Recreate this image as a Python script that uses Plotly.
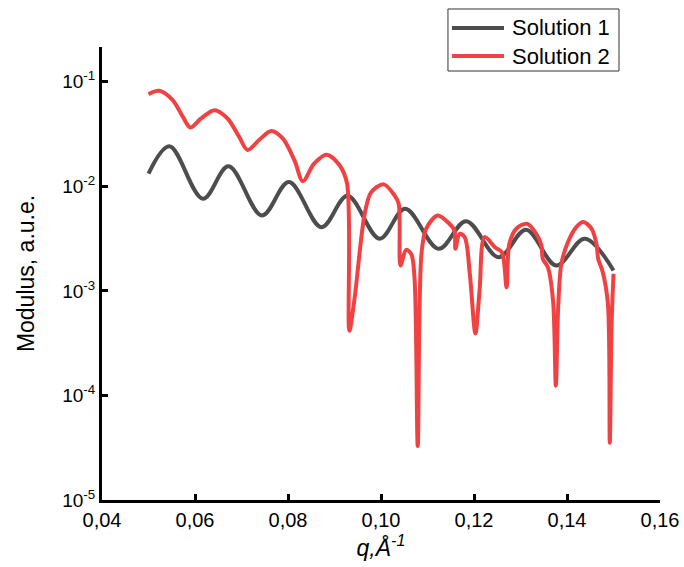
import plotly.graph_objects as go

# Solution 1 (dark grey)
q1 = [0.0500, 0.0545, 0.0617, 0.0672, 0.0744, 0.0802, 0.0872, 0.0928, 0.0997, 0.1052,
      0.1124, 0.1183, 0.1253, 0.1312, 0.1377, 0.1438, 0.1500]
m1 = [0.01324, 0.0242, 0.00762, 0.01556, 0.00527, 0.01099, 0.00407, 0.00811, 0.00316, 0.00611,
      0.00253, 0.00465, 0.00210, 0.00385, 0.00175, 0.00316, 0.00157]

# Solution 2 (red)
q2 = [0.0500, 0.0523, 0.0552, 0.0574, 0.0590, 0.0613, 0.0642, 0.0670, 0.0695, 0.0713,
      0.0739, 0.0764, 0.0789, 0.0814, 0.0832, 0.0856, 0.0883, 0.0911, 0.0927, 0.0932,
      0.0943, 0.0965, 0.0979, 0.1006, 0.1029, 0.1038, 0.1042, 0.1054, 0.1065, 0.1072,
      0.1079, 0.1087, 0.1097, 0.1122, 0.1147, 0.1158, 0.1160, 0.1169, 0.1180, 0.1191,
      0.1203, 0.1212, 0.1223, 0.1245, 0.1260, 0.1270, 0.1276, 0.1291, 0.1314, 0.1334,
      0.1345, 0.1348, 0.1359, 0.1370, 0.1376, 0.1381, 0.1388, 0.1402, 0.1420, 0.1435,
      0.1453, 0.1464, 0.1467, 0.1477, 0.1488, 0.1492, 0.1496, 0.1500]
m2 = [0.0762, 0.0820, 0.0668, 0.0461, 0.0366, 0.0446, 0.0536, 0.0446, 0.0297, 0.0223,
      0.0281, 0.0339, 0.0286, 0.0177, 0.0112, 0.0165, 0.0201, 0.0159, 0.0106, 0.000416,
      0.000838, 0.00547, 0.00881, 0.01045, 0.00820, 0.00682, 0.00175, 0.00247, 0.00226, 0.00135,
      0.0000329, 0.00226, 0.00393, 0.00527, 0.00439, 0.00378, 0.00253, 0.00352, 0.00327, 0.00146,
      0.000392, 0.00101, 0.00327, 0.00262, 0.00234, 0.00108, 0.00282, 0.00393, 0.00439, 0.00352,
      0.00272, 0.00203, 0.00168, 0.000807, 0.000124, 0.000697, 0.00182, 0.00292, 0.00407, 0.00455,
      0.00393, 0.00272, 0.00203, 0.00151, 0.000750, 0.0000353, 0.000483, 0.00146]

series_names = ["Solution 1", "Solution 2"]
series_colors = ["#4d4d4d", "#f04242"]

x_ticks = [0.04, 0.06, 0.08, 0.10, 0.12, 0.14, 0.16]
x_tick_labels = ["0,04", "0,06", "0,08", "0,10", "0,12", "0,14", "0,16"]
y_ticks = [1e-5, 1e-4, 1e-3, 1e-2, 1e-1]
y_tick_labels = ["10<sup>-5</sup>", "10<sup>-4</sup>", "10<sup>-3</sup>", "10<sup>-2</sup>", "10<sup>-1</sup>"]

FONT = "Arial, 'Liberation Sans', sans-serif"

fig = go.Figure()
fig.add_trace(go.Scatter(x=q1, y=m1, mode="lines", name=series_names[0],
                         line=dict(color=series_colors[0], width=4, shape="spline", smoothing=1.0)))
fig.add_trace(go.Scatter(x=q2, y=m2, mode="lines", name=series_names[1],
                         line=dict(color=series_colors[1], width=4, shape="spline", smoothing=0.9)))

fig.update_layout(
    width=684, height=567,
    margin=dict(l=102, r=24, t=47, b=67),
    paper_bgcolor="white", plot_bgcolor="white",
    font=dict(family=FONT, color="black", size=20),
    showlegend=False,
)

# legend box drawn in paper coordinates
fig.add_shape(type="rect", xref="paper", yref="paper",
              x0=0.6200, x1=0.9265, y0=0.9470, y1=1.0839,
              line=dict(color="#333333", width=1), fillcolor="white", layer="above")
legend_rows_y = [1.0420, 0.9801]
for name, color, yy in zip(series_names, series_colors, legend_rows_y):
    fig.add_shape(type="line", xref="paper", yref="paper",
                  x0=0.6272, x1=0.7204, y0=yy, y1=yy,
                  line=dict(color=color, width=4), layer="above")
    fig.add_annotation(xref="paper", yref="paper", x=0.7320, y=yy,
                       xanchor="left", yanchor="middle", showarrow=False,
                       text=name, font=dict(size=22, family=FONT, color="black"))

fig.update_xaxes(
    range=[0.04, 0.16], tickvals=x_ticks, ticktext=x_tick_labels,
    showline=True, linecolor="black", linewidth=3, mirror=False,
    ticks="inside", ticklen=6, tickwidth=3, tickcolor="black",
    showgrid=False, zeroline=False, automargin=False,
    tickfont=dict(size=20, family=FONT),
    title=dict(text="<i>q,Å<sup>-1</sup></i>", font=dict(size=23, family=FONT), standoff=8),
)
fig.update_yaxes(
    type="log", range=[-5, -0.667], tickvals=y_ticks, ticktext=y_tick_labels,
    showline=True, linecolor="black", linewidth=3, mirror=False,
    ticks="inside", ticklen=6, tickwidth=3, tickcolor="black",
    showgrid=False, zeroline=False, automargin=False,
    tickfont=dict(size=19, family=FONT),
    title=dict(text="Modulus, a.u.e.", font=dict(size=23, family=FONT), standoff=22),
)

fig.write_html("out.html")
